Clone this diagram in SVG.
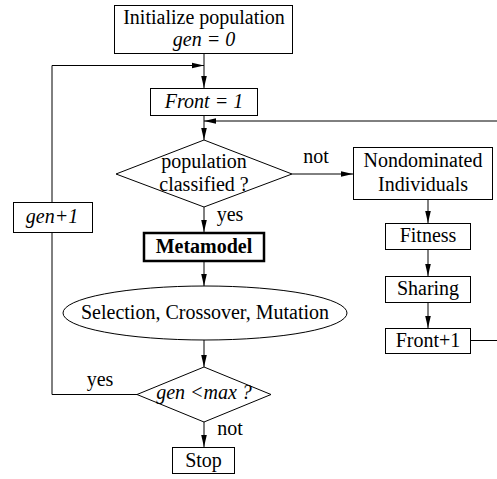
<svg xmlns="http://www.w3.org/2000/svg" width="497" height="479" viewBox="0 0 497 479">
<defs>
<marker id="ah" markerWidth="12" markerHeight="8" refX="12" refY="4" orient="auto" markerUnits="userSpaceOnUse">
<path d="M0,1.2 L12,4 L0,6.8 Z" fill="#000"/>
</marker>
</defs>
<style>
text{font-family:'Liberation Serif','Times New Roman','DejaVu Serif',serif;font-size:20px;fill:#000;text-anchor:middle}
.it{font-style:italic}
.b{font-weight:bold}
.n{fill:#fff;stroke:#000;stroke-width:1}
.c{fill:none;stroke:#000;stroke-width:1}
</style>
<rect width="497" height="479" fill="#fff"/>
<g id="connectors">
<line class="c" x1="204" y1="53" x2="204" y2="88" marker-end="url(#ah)"/>
<polyline class="c" points="137,394.5 52,394.5 52,65.5 204,65.5" marker-end="url(#ah)"/>
<line class="c" x1="204" y1="115" x2="204" y2="140" marker-end="url(#ah)"/>
<line class="c" x1="497" y1="121" x2="204" y2="121" marker-end="url(#ah)"/>
<line class="c" x1="292" y1="174" x2="353" y2="174" marker-end="url(#ah)"/>
<line class="c" x1="204" y1="207" x2="204" y2="232" marker-end="url(#ah)"/>
<line class="c" x1="204" y1="261" x2="204" y2="286" marker-end="url(#ah)"/>
<line class="c" x1="204" y1="340" x2="204" y2="367" marker-end="url(#ah)"/>
<line class="c" x1="204" y1="422" x2="204" y2="447" marker-end="url(#ah)"/>
<line class="c" x1="428" y1="199" x2="428" y2="223" marker-end="url(#ah)"/>
<line class="c" x1="428" y1="249" x2="428" y2="276" marker-end="url(#ah)"/>
<line class="c" x1="428" y1="302" x2="428" y2="328" marker-end="url(#ah)"/>
<line class="c" x1="471" y1="340.5" x2="497" y2="340.5"/>
<text x="316" y="163">not</text>
<text x="230" y="221">yes</text>
<text x="100" y="386">yes</text>
<text x="230" y="435">not</text>
</g>
<g id="init">
<rect class="n" x="114.5" y="5.5" width="178" height="48"/>
<text x="204" y="24">Initialize population</text>
<text x="204" y="46" class="it">gen = 0</text>
</g>
<g id="front1">
<rect class="n" x="150.5" y="88.5" width="107" height="27"/>
<text x="204" y="108" class="it">Front = 1</text>
</g>
<g id="classified">
<polygon class="n" points="204,140 292,174 204,207 116,174"/>
<text x="204" y="168">population</text>
<text x="204" y="191">classified ?</text>
</g>
<g id="nondominated">
<rect class="n" x="353.5" y="147.5" width="139" height="52"/>
<text x="423" y="167">Nondominated</text>
<text x="423" y="191">Individuals</text>
</g>
<g id="fitness">
<rect class="n" x="385.5" y="223.5" width="85" height="26"/>
<text x="428" y="242">Fitness</text>
</g>
<g id="sharing">
<rect class="n" x="385.5" y="276.5" width="85" height="26"/>
<text x="428" y="295">Sharing</text>
</g>
<g id="frontplus">
<rect class="n" x="385.5" y="328.5" width="85" height="25"/>
<text x="428" y="347">Front+1</text>
</g>
<g id="genplus">
<rect class="n" x="13.5" y="202.5" width="79" height="30"/>
<text x="52" y="223" class="it">gen+1</text>
</g>
<g id="metamodel">
<rect x="144" y="233" width="120" height="28" fill="#fff" stroke="#000" stroke-width="2.5"/>
<text x="204" y="253" class="b">Metamodel</text>
</g>
<g id="genetic">
<ellipse class="n" cx="205" cy="313" rx="142" ry="27"/>
<text x="205" y="319">Selection, Crossover, Mutation</text>
</g>
<g id="genmax">
<polygon class="n" points="204,367 271,394.5 204,422 137,394.5"/>
<text x="204" y="399" class="it">gen &lt;max ?</text>
</g>
<g id="stop">
<rect class="n" x="172.5" y="447.5" width="62" height="26"/>
<text x="203.5" y="467">Stop</text>
</g>
</svg>
